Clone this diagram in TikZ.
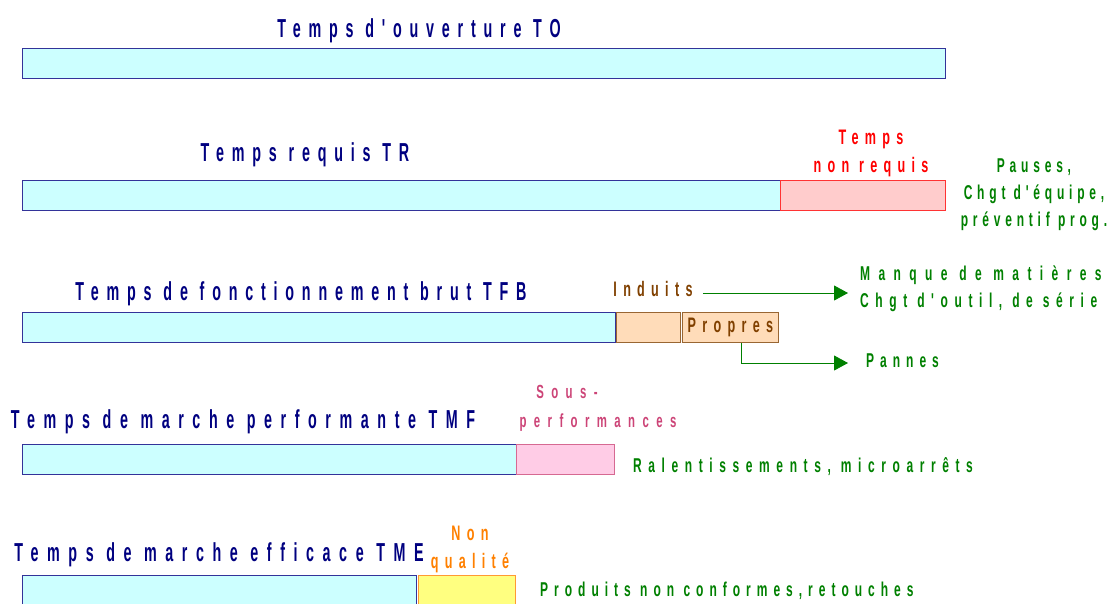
\documentclass[tikz,border=0pt]{standalone}
\usepackage{fontspec}
\newfontfamily\etiq[FakeStretch=0.6,LetterSpace=30]{Liberation Sans}
\newfontfamily\etiqtitre[FakeStretch=0.55,LetterSpace=30]{Liberation Sans}
\usetikzlibrary{arrows.meta, positioning}
\definecolor{bleunuit}{RGB}{0,0,128}
\definecolor{cyanclair}{RGB}{204,255,255}
\definecolor{bordbleu}{RGB}{51,51,153}
\definecolor{rougeclair}{RGB}{255,204,204}
\definecolor{vertfonce}{RGB}{0,128,0}
\definecolor{brun}{RGB}{128,64,0}
\definecolor{peche}{RGB}{255,220,185}
\definecolor{roseclair}{RGB}{255,204,230}
\definecolor{rosefonce}{RGB}{204,68,119}
\definecolor{orange}{RGB}{255,128,0}
\definecolor{jaune}{RGB}{255,255,128}
\tikzstyle{barre} = [rectangle, anchor=north west, minimum height=30, inner sep=0pt,
line width=0.8pt]
\tikzstyle{utile} = [barre, fill=cyanclair, draw=bordbleu]
\tikzstyle{titre} = [font=\etiqtitre\bfseries\fontsize{26}{30}\selectfont, text=bleunuit,
inner sep=0pt, anchor=base]
\tikzstyle{cause} = [font=\etiq\bfseries\fontsize{20}{27}\selectfont, text=vertfonce,
inner sep=0pt, anchor=base west]
\tikzstyle{perte} = [font=\etiq\bfseries\fontsize{21}{28}\selectfont,
inner sep=0pt, align=center]
\tikzstyle{fleche} = [-{Triangle[length=14pt,width=15pt]}, draw=vertfonce, line width=0.8pt]

\begin{document}
\begin{tikzpicture}[x=1pt, y=-1pt]
		\useasboundingbox (0,0) rectangle (1114,603);
		% TO
		\node (to) [utile, minimum width=923] at (22,48) {};
		\node (tolbl) [titre] at (419,37) {Temps d'ouverture TO};
		% TR
		\node (tr) [utile, minimum width=758] at (22,180) {};
		\node (trlbl) [titre] at (305,161) {Temps requis TR};
		\node (nonreq) [barre, minimum width=165, fill=rougeclair, draw=red!80] at (780,180) {};
		\node (nonreqlbl) [perte, text=red, anchor=base] at (871,172) {Temps\\non requis};
		\node (pauses) [cause, anchor=base, align=center,
			font=\etiq\bfseries\fontsize{20}{27}\selectfont\addfontfeatures{LetterSpace=24}] at (1034,226) {Pauses,\\Chgt d'équipe,\\préventif prog.};
		% TFB
		\node (tfb) [utile, minimum width=593] at (22,312) {};
		\node (tfblbl) [titre] at (301,300) {Temps de fonctionnement brut TFB};
		\node (induits) [barre, minimum width=64, fill=peche, draw=brun!80] at (616,312) {};
		\node (induitslbl) [perte, text=brun, anchor=base] at (653,296) {Induits};
		\node (propres) [barre, minimum width=96, fill=peche, draw=brun!80, text=brun,
			font=\etiq\bfseries\fontsize{21}{28}\selectfont] at (682,312) {Propres};
		\node (manque) [cause, font=\etiq\bfseries\fontsize{20}{27}\selectfont\addfontfeatures{LetterSpace=42}] at (860,280) {Manque de matières};
		\node (outil) [cause, font=\etiq\bfseries\fontsize{20}{27}\selectfont\addfontfeatures{LetterSpace=33}] at (860,307) {Chgt d'outil, de série};
		\node (pannes) [cause] at (866,367) {Pannes};
		\draw [fleche] ([shift={(10,-3)}]induitslbl.base east) -- ([shift={(-12,-3)}]induitslbl.base east -| manque.west);
		\draw [fleche] ([xshift=11pt]propres.south) |- ([shift={(-18,-4)}]pannes.base west);
		% TMF
		\node (tmf) [utile, minimum width=494] at (22,444) {};
		\node (tmflbl) [titre, font=\etiqtitre\bfseries\fontsize{26}{30}\selectfont\addfontfeatures{LetterSpace=33}] at (243,428) {Temps de marche performante TMF};
		\node (sousperf) [barre, minimum width=98, fill=roseclair, draw=rosefonce!80] at (516,444) {};
		\node (sousperflbl) [perte, text=rosefonce, anchor=base,
			font=\etiq\bfseries\fontsize{19}{29}\selectfont\addfontfeatures{LetterSpace=39}] at (598,427) {\hspace*{-62pt}Sous-\\performances};
		\node (ralent) [cause, font=\etiq\bfseries\fontsize{20}{27}\selectfont\addfontfeatures{LetterSpace=33}] at (633,472) {Ralentissements, microarrêts};
		% TME
		\node (tme) [utile, minimum width=394] at (22,575) {};
		\node (tmelbl) [titre, font=\etiqtitre\bfseries\fontsize{26}{30}\selectfont\addfontfeatures{LetterSpace=33}] at (219,561) {Temps de marche efficace TME};
		\node (nonqual) [barre, minimum width=97, fill=jaune, draw=orange!80] at (418,575) {};
		\node (nonquallbl) [perte, text=orange, anchor=base] at (470,568) {Non\\qualité};
		\node (produits) [cause] at (540,596) {Produits non conformes,retouches};
	\end{tikzpicture}
\end{document}
